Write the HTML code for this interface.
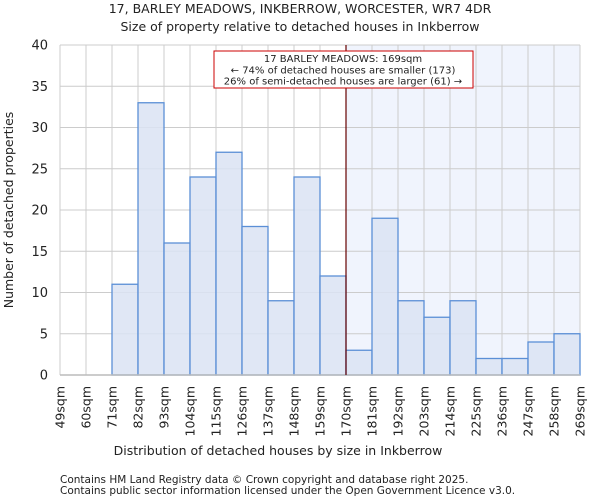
<!DOCTYPE html>
<html><head><meta charset="utf-8"><style>
body{margin:0;background:#fff;font-family:"DejaVu Sans","Liberation Sans",sans-serif;}
svg text{font-family:"DejaVu Sans","Liberation Sans",sans-serif;fill:#222;}
</style></head><body>
<svg id="chart" width="600" height="500" xmlns="http://www.w3.org/2000/svg">
<text x="300" y="13" text-anchor="middle" font-size="12.5">17, BARLEY MEADOWS, INKBERROW, WORCESTER, WR7 4DR</text>
<text x="300" y="31" text-anchor="middle" font-size="12.5">Size of property relative to detached houses in Inkberrow</text>
<g id="plot"></g>
<text x="278" y="455" text-anchor="middle" font-size="12.5">Distribution of detached houses by size in Inkberrow</text>
<text transform="translate(13,210) rotate(-90)" text-anchor="middle" font-size="12.5">Number of detached properties</text>
<text x="60" y="483" font-size="10.5">Contains HM Land Registry data © Crown copyright and database right 2025.</text>
<text x="60" y="494" font-size="10.5">Contains public sector information licensed under the Open Government Licence v3.0.</text>
</svg>
<script>
const edges=["49sqm","60sqm","71sqm","82sqm","93sqm","104sqm","115sqm","126sqm","137sqm","148sqm","159sqm","170sqm","181sqm","192sqm","203sqm","214sqm","225sqm","236sqm","247sqm","258sqm","269sqm"];
const counts=[0,0,11,33,16,24,27,18,9,24,12,3,19,9,7,9,2,2,4,5];
const yTicks=[0,5,10,15,20,25,30,35,40];
const markerIndex=11;
const L=60,R=580,T=45,B=375,yMax=40;
const bw=(R-L)/counts.length;
const xs=i=>L+i*bw;
const ys=v=>B-(v/yMax)*(B-T);
const g=document.getElementById('plot');
const NS="http://www.w3.org/2000/svg";
function mk(t,a){const e=document.createElementNS(NS,t);for(const k in a)e.setAttribute(k,a[k]);g.appendChild(e);return e;}
let r=mk('rect',{x:xs(markerIndex),y:T,width:R-xs(markerIndex),height:B-T,fill:'#f0f4fd'});


yTicks.forEach(v=>{
 let l=mk('line',{x1:L,x2:R,y1:ys(v),y2:ys(v),stroke:'#cccccc','stroke-width':1});
 
 
 let t=mk('text',{x:L-12,y:ys(v)+4.5,'text-anchor':'end','font-size':'13'});t.textContent=v;
 
 
});
edges.forEach((s,i)=>{
 let l=mk('line',{x1:xs(i),x2:xs(i),y1:T,y2:B,stroke:'#cccccc','stroke-width':1});
 
 
 let t=mk('text',{transform:`translate(${xs(i)+4.5},386) rotate(-90)`,'text-anchor':'end','font-size':'12.5'});t.textContent=s;
 
 
});
counts.forEach((v,i)=>{
 if(v<=0)return;
 let b=mk('rect',{x:xs(i),y:ys(v),width:bw,height:B-ys(v),fill:'#dae3f3',stroke:'#5b8fd6','stroke-width':1.3,'fill-opacity':0.85});
 
 
});
let ax=mk('line',{x1:L,x2:R,y1:B,y2:B,stroke:'#bbbbbb','stroke-width':1.5});


let ml=mk('line',{x1:xs(markerIndex),x2:xs(markerIndex),y1:T,y2:B,stroke:'#660000','stroke-width':1.2});


let box=mk('rect',{x:214,y:51,width:259,height:37,fill:'#fff',stroke:'#cc0000','stroke-width':1});


["17 BARLEY MEADOWS: 169sqm","← 74% of detached houses are smaller (173)","26% of semi-detached houses are larger (61) →"].forEach((s,i)=>{
 let t=mk('text',{x:343,y:62+i*11.3,'text-anchor':'middle','font-size':'10'});t.textContent=s;
 
 
});
</script>
</body></html>
